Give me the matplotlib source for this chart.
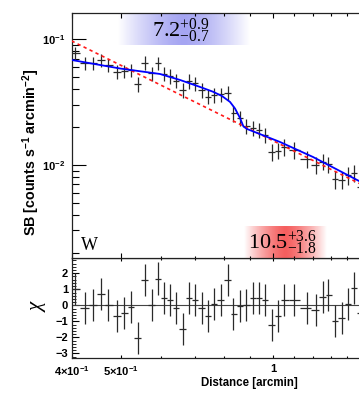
import numpy as np
import matplotlib
matplotlib.use("Agg")
import matplotlib.pyplot as plt
from matplotlib.ticker import FixedLocator, FixedFormatter, MultipleLocator, NullFormatter

plt.rcParams['mathtext.default'] = 'regular'
plt.rcParams['font.family'] = ['Liberation Sans', 'DejaVu Sans']

# ---------------- data ----------------
dist = [0.4063, 0.4252, 0.4403, 0.4571, 0.4725, 0.4911, 0.5083, 0.5240, 0.5402, 0.5581,
        0.5755, 0.5916, 0.6079, 0.6256, 0.6429, 0.6630, 0.6820, 0.7005, 0.7225, 0.7444,
        0.7637, 0.7873, 0.8131, 0.8339, 0.8597, 0.8835, 0.9133, 0.9358, 0.9630, 0.9927,
        1.020, 1.051, 1.100, 1.164, 1.214, 1.252, 1.284, 1.324, 1.364, 1.404, 1.445, 1.485]
sb = [0.0773, 0.0648, 0.0648, 0.0684, 0.0624, 0.0552, 0.0559, 0.0569, 0.0440, 0.0651,
      0.0536, 0.0642, 0.0532, 0.0510, 0.0468, 0.0394, 0.0465, 0.0446, 0.0394, 0.0349,
      0.0360, 0.0365, 0.0375, 0.0257, 0.0235, 0.0204, 0.0197, 0.0189, 0.0173, 0.0127,
      0.0130, 0.0139, 0.0131, 0.0111, 0.00996, 0.0106, 0.0101, 0.00766, 0.00757, 0.00829,
      0.00865, 0.00669]
sb_rel_err = [0.12, 0.12, 0.12, 0.12, 0.12, 0.12, 0.12, 0.12, 0.13, 0.12,
              0.13, 0.12, 0.13, 0.13, 0.13, 0.13, 0.13, 0.13, 0.13, 0.13,
              0.13, 0.13, 0.13, 0.14, 0.14, 0.14, 0.14, 0.14, 0.14, 0.15,
              0.15, 0.15, 0.15, 0.15, 0.15, 0.15, 0.15, 0.16, 0.16, 0.16,
              0.16, 0.16]
chi = [1.04, -0.17, 0.04, 0.73, 0.00, -0.69, -0.46, -0.13, -2.04, 1.56,
       0.04, 1.67, 0.44, 0.36, -0.17, -1.46, 0.48, 0.31, -0.15, -0.67,
       0.06, 0.35, 1.56, -0.56, -0.06, 0.00, 0.46, 0.48, 0.36, -1.25,
       -0.69, 0.31, 0.35, -0.15, -0.31, 0.52, 0.63, -1.00, -0.79, 0.10,
       1.08, -0.50]
chi_err = [1.0] * len(chi)

# best-fit broken power-law (shock) model
model_x = [0.400, 0.4985, 0.5977, 0.6546, 0.7170, 0.7605, 0.7922, 0.8215, 0.8404,
           0.8597, 0.8732, 0.8874, 1.031, 1.198, 1.624]
model_y = [0.0684, 0.0585, 0.0529, 0.0474, 0.0417, 0.0382, 0.0353, 0.0317, 0.0281,
           0.0236, 0.0202, 0.0193, 0.0152, 0.01154, 0.00608]
# single power-law model
pl_x = [0.400, 1.624]
pl_y = [0.0970, 0.00589]

# annotations
inner_label = r'$7.2^{+0.9}_{-0.7}$'
outer_label = r'$10.5^{+3.6}_{-1.8}$'
region_label = 'W'

x_major = [0.4, 0.5, 1.0]
x_major_labels = [r'4$\times$10$^{-1}$', r'5$\times$10$^{-1}$', '1']
x_minor = [0.6, 0.7, 0.8, 0.9, 1.1, 1.2, 1.3, 1.4, 1.5, 1.6]

# ---------------- figure ----------------
W, H = 359, 397
fig = plt.figure(figsize=(W / 100, H / 100), dpi=100)

x_left_px, x_right_px = 71.6, 380.0
top_px, mid_px, bot_px = 13.3, 258.0, 358.3
ax1 = fig.add_axes([x_left_px / W, (H - mid_px) / H, (x_right_px - x_left_px) / W, (mid_px - top_px) / H])
ax2 = fig.add_axes([x_left_px / W, (H - bot_px) / H, (x_right_px - x_left_px) / W, (bot_px - mid_px) / H])
ax1.set_zorder(3)

xlim = (0.4, 1.624)
dist = np.array(dist)
sb = np.array(sb)
edges = np.sqrt(dist[1:] * dist[:-1])
lo = np.concatenate([[dist[0] ** 2 / edges[0]], edges])
hi = np.concatenate([edges, [dist[-1] ** 2 / edges[-1]]])
xerr = np.vstack([dist - lo, hi - dist])
yerr = sb * np.array(sb_rel_err)

ecol = '#2a2a2a'
ax1.errorbar(dist, sb, xerr=xerr, yerr=yerr, fmt='none', ecolor=ecol, elinewidth=0.9, capsize=0, zorder=3)
ax1.plot(pl_x, pl_y, color='#ff1a1a', lw=1.2, dashes=(2.0, 2.0), zorder=4)
ax1.plot(model_x, model_y, color='#0000ff', lw=1.3, zorder=5)
ax1.set_xscale('log')
ax1.set_yscale('log')

ax2.errorbar(dist, chi, xerr=xerr, yerr=chi_err, fmt='none', ecolor=ecol, elinewidth=0.9, capsize=0, zorder=3)
ax2.axhline(0, color='#444444', lw=0.8, zorder=2)
ax2.set_xscale('log')
ax2.set_xlim(*xlim)
ax2.set_ylim(-3.3, 2.95)

# gradient boxes
def grad_box(ax, px0, px1, py0, py1, rgb):
    n = 200
    t = np.linspace(-1, 1, n)
    w = np.clip(1 - np.abs(t) ** 1.4, 0, 1)
    col = np.array(rgb) / 255.0
    img = np.ones((1, n, 3)) * (1 - w[None, :, None]) + col[None, None, :] * w[None, :, None]
    fx0 = (px0 - x_left_px) / (x_right_px - x_left_px)
    fx1 = (px1 - x_left_px) / (x_right_px - x_left_px)
    fy0 = (mid_px - py1) / (mid_px - top_px)
    fy1 = (mid_px - py0) / (mid_px - top_px)
    ax.imshow(img, extent=[fx0, fx1, fy0, fy1], transform=ax.transAxes,
              aspect='auto', interpolation='bilinear', zorder=1)

grad_box(ax1, 118, 250, 13.3, 45, (165, 165, 242))
grad_box(ax1, 244, 326, 226, 258, (245, 95, 95))
ax1.set_xlim(*xlim)
ax1.set_ylim(0.00181, 0.161)

serif = ['Liberation Serif', 'DejaVu Serif']
fig.text(152 / W, 1 - 36.5 / H, inner_label, family=serif, fontsize=16, ha='left', va='baseline', zorder=10)
fig.text(248 / W, 1 - 248.5 / H, outer_label, family=serif, fontsize=16, ha='left', va='baseline', zorder=10)
fig.text(81 / W, 1 - 249.5 / H, region_label, family=serif, fontsize=13, ha='left', va='baseline', zorder=10)

# ticks
for ax in (ax1, ax2):
    ax.xaxis.set_major_locator(FixedLocator(x_major))
    ax.xaxis.set_minor_locator(FixedLocator(x_minor))
    ax.xaxis.set_minor_formatter(NullFormatter())
    for s in ax.spines.values():
        s.set_linewidth(0.9)
        s.set_color('#222222')

ax1.xaxis.set_major_formatter(NullFormatter())
ax1.tick_params(axis='x', which='major', direction='in', top=True, bottom=True, length=3.6, width=0.8)
ax1.tick_params(axis='x', which='minor', direction='in', top=True, bottom=True, length=1.8, width=0.8)
ax1.tick_params(axis='y', which='major', direction='in', left=True, right=True, length=10, width=0.8,
                labelsize=8, pad=4.5)
ax1.tick_params(axis='y', which='minor', direction='in', left=True, right=True, length=5, width=0.8)
ax1.yaxis.set_major_formatter(matplotlib.ticker.FuncFormatter(
    lambda v, p: r'10$^{%d}$' % int(round(np.log10(v)))))

ax2.xaxis.set_major_formatter(FixedFormatter(x_major_labels))
ax2.tick_params(axis='x', which='major', direction='in', top=True, bottom=True, length=2.4, width=0.8,
                labelsize=8, pad=4)
ax2.tick_params(axis='x', which='minor', direction='in', top=True, bottom=True, length=1.2, width=0.8)
ax2.yaxis.set_major_locator(MultipleLocator(1))
ax2.yaxis.set_minor_locator(MultipleLocator(0.2))
ax2.yaxis.set_major_formatter(matplotlib.ticker.FuncFormatter(lambda v, p: '%d' % v if v >= 0 else '\u2212%d' % (-v)))
ax2.tick_params(axis='y', which='major', direction='in', left=True, right=True, length=4.8, width=0.8,
                labelsize=8, pad=2.6)
ax2.tick_params(axis='y', which='minor', direction='in', left=True, right=True, length=2.6, width=0.6)

for lab in ax1.get_yticklabels() + ax2.get_yticklabels() + ax2.get_xticklabels():
    lab.set_fontweight('bold')

# axis titles
fig.text(31 / W, 1 - 152 / H, r'SB [counts s$^{-1}$ arcmin$^{-2}$]', rotation=90, fontsize=10.3,
         fontweight='bold', ha='center', va='center')
fig.text(298 / W, 1 - 383 / H, 'Distance [arcmin]', fontsize=8.3, fontweight='bold', ha='right', va='center')
fig.text(38 / W, 1 - 307 / H, '\u03c7', family=serif, fontstyle='italic', fontsize=15, rotation=90,
         ha='center', va='center')

fig.savefig('out.png', dpi=100)
